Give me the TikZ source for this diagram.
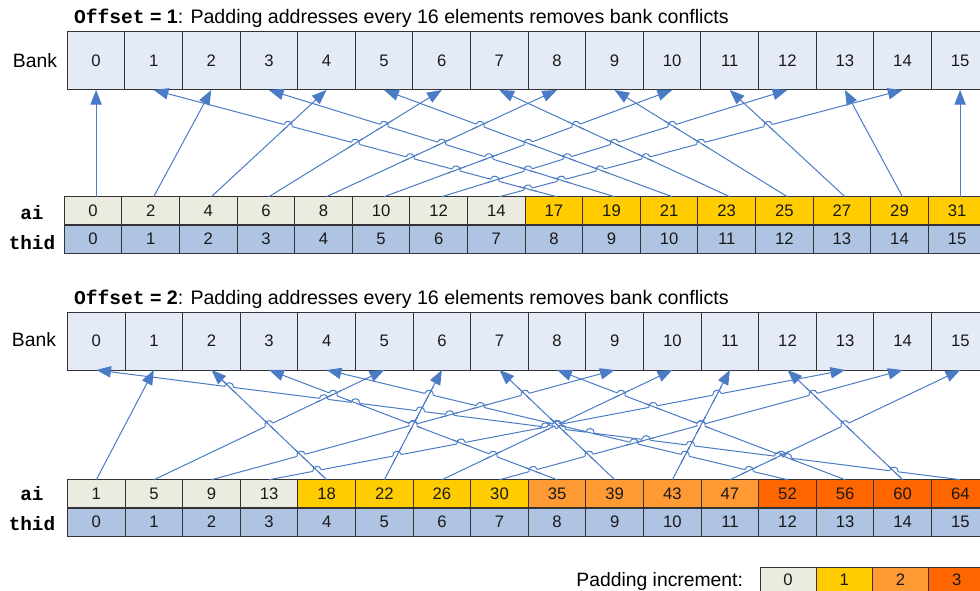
\documentclass[tikz,border=0pt]{standalone}
\usepackage{fontspec}
\setmainfont{Liberation Sans}
\newfontfamily\courfont{Liberation Mono}
\usetikzlibrary{arrows.meta}
\definecolor{bankfill}{HTML}{E5EBF6}
\definecolor{aifill}{HTML}{EBEBDF}
\definecolor{padone}{HTML}{FFCC00}
\definecolor{padtwo}{HTML}{FF9933}
\definecolor{padthree}{HTML}{FF6600}
\definecolor{thidfill}{HTML}{AFC3E3}
\definecolor{arrowc}{HTML}{4A7BC5}
\definecolor{cellborder}{HTML}{333333}
\def\banksA{{0,2,4,6,8,10,12,14,1,3,5,7,9,11,13,15}}
\def\banksB{{1,5,9,13,2,6,10,14,3,7,11,15,4,8,12,0}}
% line jumps: #1 bank array, #2 left x, #3 y of ai top, #4 y of bank bottom
\newcommand\drawhops[4]{%
\foreach \j in {0,...,14}{%
 \pgfmathtruncatemacro\hpjn{\j+1}%
 \foreach \k in {\hpjn,...,15}{%
  \pgfmathsetmacro\hpsj{#2+57.6*(\j+0.5)}%
  \pgfmathsetmacro\hpsk{#2+57.6*(\k+0.5)}%
  \pgfmathsetmacro\hpdj{#2+57.6*(#1[\j]+0.5)-\hpsj}%
  \pgfmathsetmacro\hpdk{#2+57.6*(#1[\k]+0.5)-\hpsk}%
  \pgfmathsetmacro\hpden{\hpdj-\hpdk}%
  \pgfmathtruncatemacro\hpok{abs(\hpden)>0.5 ? 1 : 0}%
  \ifnum\hpok=1
   \pgfmathsetmacro\hpt{(\hpsk-\hpsj)/\hpden}%
   \pgfmathtruncatemacro\hpok{(\hpt>0.03 && \hpt<0.86) ? 1 : 0}%
   \ifnum\hpok=1
    \pgfmathsetmacro\hpH{#4-#3}%
    \pgfmathsetmacro\hpx{\hpsj+\hpt*\hpdj}%
    \pgfmathsetmacro\hpy{#3+\hpt*\hpH}%
    \pgfmathsetmacro\hpdh{abs(\hpdj)>=abs(\hpdk) ? \hpdj : \hpdk}%
    \pgfmathsetmacro\hpdo{abs(\hpdj)>=abs(\hpdk) ? \hpdk : \hpdj}%
    \pgfmathsetmacro\hpLh{100*sqrt((\hpdh/100)*(\hpdh/100)+(\hpH/100)*(\hpH/100))}%
    \pgfmathsetmacro\hpLo{100*sqrt((\hpdo/100)*(\hpdo/100)+(\hpH/100)*(\hpH/100))}%
    \pgfmathsetmacro\hpux{\hpdh/\hpLh}%
    \pgfmathsetmacro\hpuy{\hpH/\hpLh}%
    \pgfmathsetmacro\hpvx{\hpdo/\hpLo}%
    \pgfmathsetmacro\hpvy{\hpH/\hpLo}%
    \pgfmathsetmacro\hps{\hpdh>=0 ? 1 : -1}%
    \pgfmathsetmacro\hpnx{\hps*\hpuy}%
    \pgfmathsetmacro\hpny{-\hps*\hpux}%
    \draw[white,line width=2pt] ({\hpx-4.3*\hpux},{\hpy-4.3*\hpuy}) -- ({\hpx+4.3*\hpux},{\hpy+4.3*\hpuy});
    \draw[arrowc,line width=0.75pt] ({\hpx-9*\hpvx},{\hpy-9*\hpvy}) -- ({\hpx+9*\hpvx},{\hpy+9*\hpvy});
    \draw[arrowc,line width=0.75pt] ({\hpx-4.3*\hpux},{\hpy-4.3*\hpuy}) .. controls ({\hpx-4.3*\hpux+5.6*\hpnx},{\hpy-4.3*\hpuy+5.6*\hpny}) and ({\hpx+4.3*\hpux+5.6*\hpnx},{\hpy+4.3*\hpuy+5.6*\hpny}) .. ({\hpx+4.3*\hpux},{\hpy+4.3*\hpuy});
   \fi
  \fi
 }}}
\begin{document}
\begin{tikzpicture}[x=0.75pt,y=-0.75pt,
  bigtext/.style={inner sep=0pt,outer sep=0pt,font=\fontsize{14.5}{17}\selectfont,text=black},
  titletext/.style={bigtext,font=\fontsize{14.7}{17}\selectfont},
  cellbase/.style={draw=cellborder,line width=0.75pt,inner sep=0pt,outer sep=0pt,
    minimum width=43.2pt,font=\fontsize{12.5}{14}\selectfont,text=black!90},
  bankcell/.style={cellbase,fill=bankfill,minimum height=43.5pt},
  aicell/.style={cellbase,minimum height=21.2pt},
  thidcell/.style={cellbase,fill=thidfill,minimum height=21.2pt},
  legcell/.style={cellbase,minimum width=42.15pt,minimum height=18.4pt},
  conn/.style={draw=arrowc,line width=0.75pt,-{Triangle[length=11pt,width=8.5pt]}}]
\useasboundingbox (0,0) rectangle (980,591);
\clip (0,0) rectangle (980,591);
% ---------------- Offset = 1 ----------------
\node[titletext,anchor=base west] (title1) at (74,24)
  {{\courfont\bfseries Offset}\textbf{ = 1}: Padding addresses every 16 elements removes bank conflicts};
\node[bigtext,anchor=base] (banklbl1) at (35,67.7) {Bank};
\node[bigtext,anchor=base] (ailbl1) at (32,220) {\courfont\bfseries ai};
\node[bigtext,anchor=base] (thidlbl1) at (32,250) {\courfont\bfseries thid};
\foreach \i in {0,...,15}
  \node[bankcell] (bk1-\i) at ({67.3+57.6*(\i+0.5)},61) {\i};
\foreach \i/\a/\c in {0/0/aifill,1/2/aifill,2/4/aifill,3/6/aifill,4/8/aifill,5/10/aifill,6/12/aifill,7/14/aifill,
  8/17/padone,9/19/padone,10/21/padone,11/23/padone,12/25/padone,13/27/padone,14/29/padone,15/31/padone}
  \node[aicell,fill=\c] (ai1-\i) at ({64.3+57.6*(\i+0.5)},210.85) {\a};
\foreach \i in {0,...,15}
  \node[thidcell] (th1-\i) at ({64.3+57.6*(\i+0.5)},239.15) {\i};
\foreach \i in {0,...,15}{
  \pgfmathtruncatemacro\bb{\banksA[\i]}
  \draw[conn] ([xshift=2.25pt]ai1-\i.north) -- (bk1-\bb.south);
}
\drawhops{\banksA}{67.3}{196.7}{90}
% ---------------- Offset = 2 ----------------
\node[titletext,anchor=base west] (title2) at (74,304)
  {{\courfont\bfseries Offset}\textbf{ = 2}: Padding addresses every 16 elements removes bank conflicts};
\node[bigtext,anchor=base] (banklbl2) at (34,346.5) {Bank};
\node[bigtext,anchor=base] (ailbl2) at (32,500) {\courfont\bfseries ai};
\node[bigtext,anchor=base] (thidlbl2) at (32,530) {\courfont\bfseries thid};
\foreach \i in {0,...,15}
  \node[bankcell] (bk2-\i) at ({67.5+57.6*(\i+0.5)},341) {\i};
\foreach \i/\a/\c in {0/1/aifill,1/5/aifill,2/9/aifill,3/13/aifill,4/18/padone,5/22/padone,6/26/padone,7/30/padone,
  8/35/padtwo,9/39/padtwo,10/43/padtwo,11/47/padtwo,12/52/padthree,13/56/padthree,14/60/padthree,15/64/padthree}
  \node[aicell,fill=\c] (ai2-\i) at ({67.5+57.6*(\i+0.5)},493.85) {\a};
\foreach \i in {0,...,15}
  \node[thidcell] (th2-\i) at ({67.5+57.6*(\i+0.5)},522.15) {\i};
\foreach \i in {0,...,15}{
  \pgfmathtruncatemacro\bb{\banksB[\i]}
  \draw[conn] (ai2-\i.north) -- (bk2-\bb.south);
}
\drawhops{\banksB}{67.5}{479.7}{370}
% ---------------- legend ----------------
\node[bigtext,anchor=base east] (leglbl) at (743,586) {Padding increment:};
\foreach \i/\c in {0/aifill,1/padone,2/padtwo,3/padthree}
  \node[legcell,fill=\c] (leg-\i) at ({760+56.2*(\i+0.5)},579.75) {\i};
\end{tikzpicture}
\end{document}
